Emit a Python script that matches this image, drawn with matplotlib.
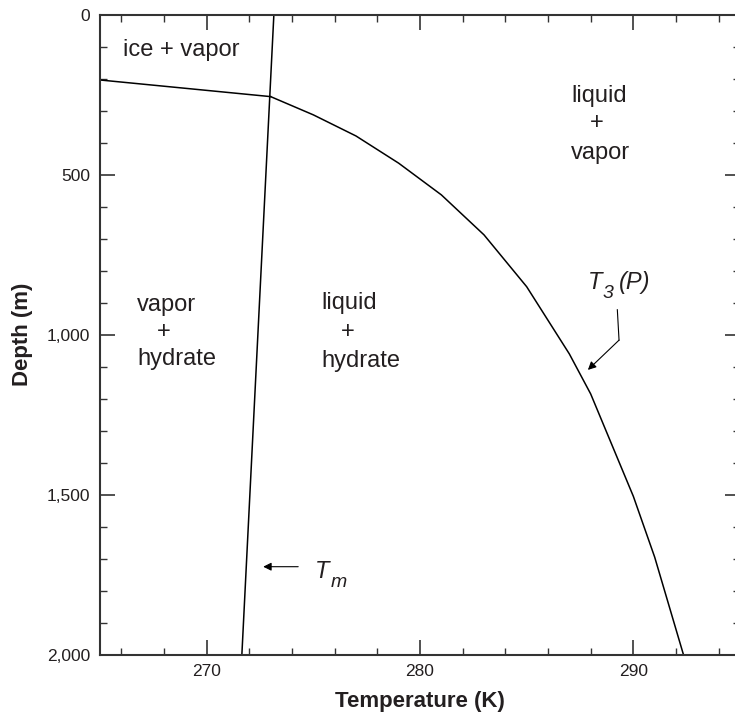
import matplotlib
matplotlib.use("Agg")
import matplotlib.pyplot as plt
from matplotlib.ticker import MultipleLocator, FuncFormatter

plt.rcParams['font.family'] = ['Liberation Sans', 'DejaVu Sans']

# Melting line T_m
tm_T = [273.15, 271.65]
tm_d = [0, 2000]

# Ice + vapor / hydrate boundary
ice_T = [265.0, 273.0]
ice_d = [204, 256]

# Hydrate stability curve T3(P)
t3_T = [273.0, 275.0, 277.0, 279.0, 281.0, 283.0, 285.0, 287.0, 288.0, 289.0, 290.0, 291.0, 292.35]
t3_d = [256, 313, 379, 464, 563, 688, 850, 1060, 1185, 1345, 1505, 1695, 2000]

x_major = [270, 280, 290]
y_major = [0, 500, 1000, 1500, 2000]

txt = '#231f20'
fig = plt.figure(figsize=(7.35, 7.18), dpi=100)
ax = fig.add_axes([100/735, 1 - 654.7/718, 640/735, 640/718])

lw = 1.1
ax.plot(tm_T, tm_d, color='black', lw=lw)
ax.plot(ice_T, ice_d, color='black', lw=lw)
ax.plot(t3_T, t3_d, color='black', lw=lw)

ax.set_xlim(265, 295)
ax.set_ylim(2000, 0)

ax.xaxis.set_major_locator(plt.FixedLocator(x_major))
ax.xaxis.set_minor_locator(MultipleLocator(2))
ax.yaxis.set_major_locator(plt.FixedLocator(y_major))
ax.yaxis.set_minor_locator(MultipleLocator(100))
ax.yaxis.set_major_formatter(FuncFormatter(lambda v, p: f"{int(v):,}"))
ax.tick_params(which='both', direction='in', top=True, right=True, color='#333333',
               labelsize=12.5, labelcolor=txt)
ax.tick_params(which='major', length=11, width=1.2)
ax.tick_params(which='minor', length=5, width=1.0)
ax.tick_params(axis='x', which='major', pad=7)
ax.tick_params(axis='y', which='major', pad=7)
for s in ax.spines.values():
    s.set_linewidth(1.5)
    s.set_color('#333333')

ax.set_xlabel('Temperature (K)', fontsize=16, fontweight='bold', color=txt, labelpad=8)
ax.set_ylabel('Depth (m)', fontsize=16, fontweight='bold', color=txt, labelpad=10)

fs = 17
ax.text(266.08, 110, 'ice + vapor', fontsize=fs, color=txt, ha='left', va='center')

ax.text(266.75, 907, 'vapor', fontsize=fs, color=txt, ha='left', va='center')
ax.text(268.0, 991, '+', fontsize=fs, color=txt, ha='center', va='center')
ax.text(266.75, 1076, 'hydrate', fontsize=fs, color=txt, ha='left', va='center')

ax.text(275.38, 901, 'liquid', fontsize=fs, color=txt, ha='left', va='center')
ax.text(276.62, 991, '+', fontsize=fs, color=txt, ha='center', va='center')
ax.text(275.38, 1082, 'hydrate', fontsize=fs, color=txt, ha='left', va='center')

ax.text(287.08, 253, 'liquid', fontsize=fs, color=txt, ha='left', va='center')
ax.text(288.3, 338, '+', fontsize=fs, color=txt, ha='center', va='center')
ax.text(287.08, 432, 'vapor', fontsize=fs, color=txt, ha='left', va='center')

# T3(P) label and arrow
ax.text(287.85, 838, 'T', fontsize=fs, color=txt, ha='left', va='center', style='italic')
ax.text(288.55, 872, '3', fontsize=14, color=txt, ha='left', va='center', style='italic')
ax.text(289.3, 838, '(P)', fontsize=fs, color=txt, ha='left', va='center', style='italic')
ax.plot([289.25, 289.33], [922, 1017], color='black', lw=0.8)
ax.annotate('', xy=(287.87, 1110), xytext=(289.33, 1017),
            arrowprops=dict(arrowstyle='-|>', color='black', lw=0.8, mutation_scale=12,
                            shrinkA=0, shrinkB=0))

# T_m label and arrow
ax.annotate('', xy=(272.65, 1725), xytext=(274.29, 1725),
            arrowprops=dict(arrowstyle='-|>', color='black', lw=0.8, mutation_scale=12,
                            shrinkA=0, shrinkB=0))
ax.text(275.07, 1740, 'T', fontsize=fs, color=txt, ha='left', va='center', style='italic')
ax.text(275.80, 1775, 'm', fontsize=14, color=txt, ha='left', va='center', style='italic')

fig.savefig('out.png', dpi=100)
